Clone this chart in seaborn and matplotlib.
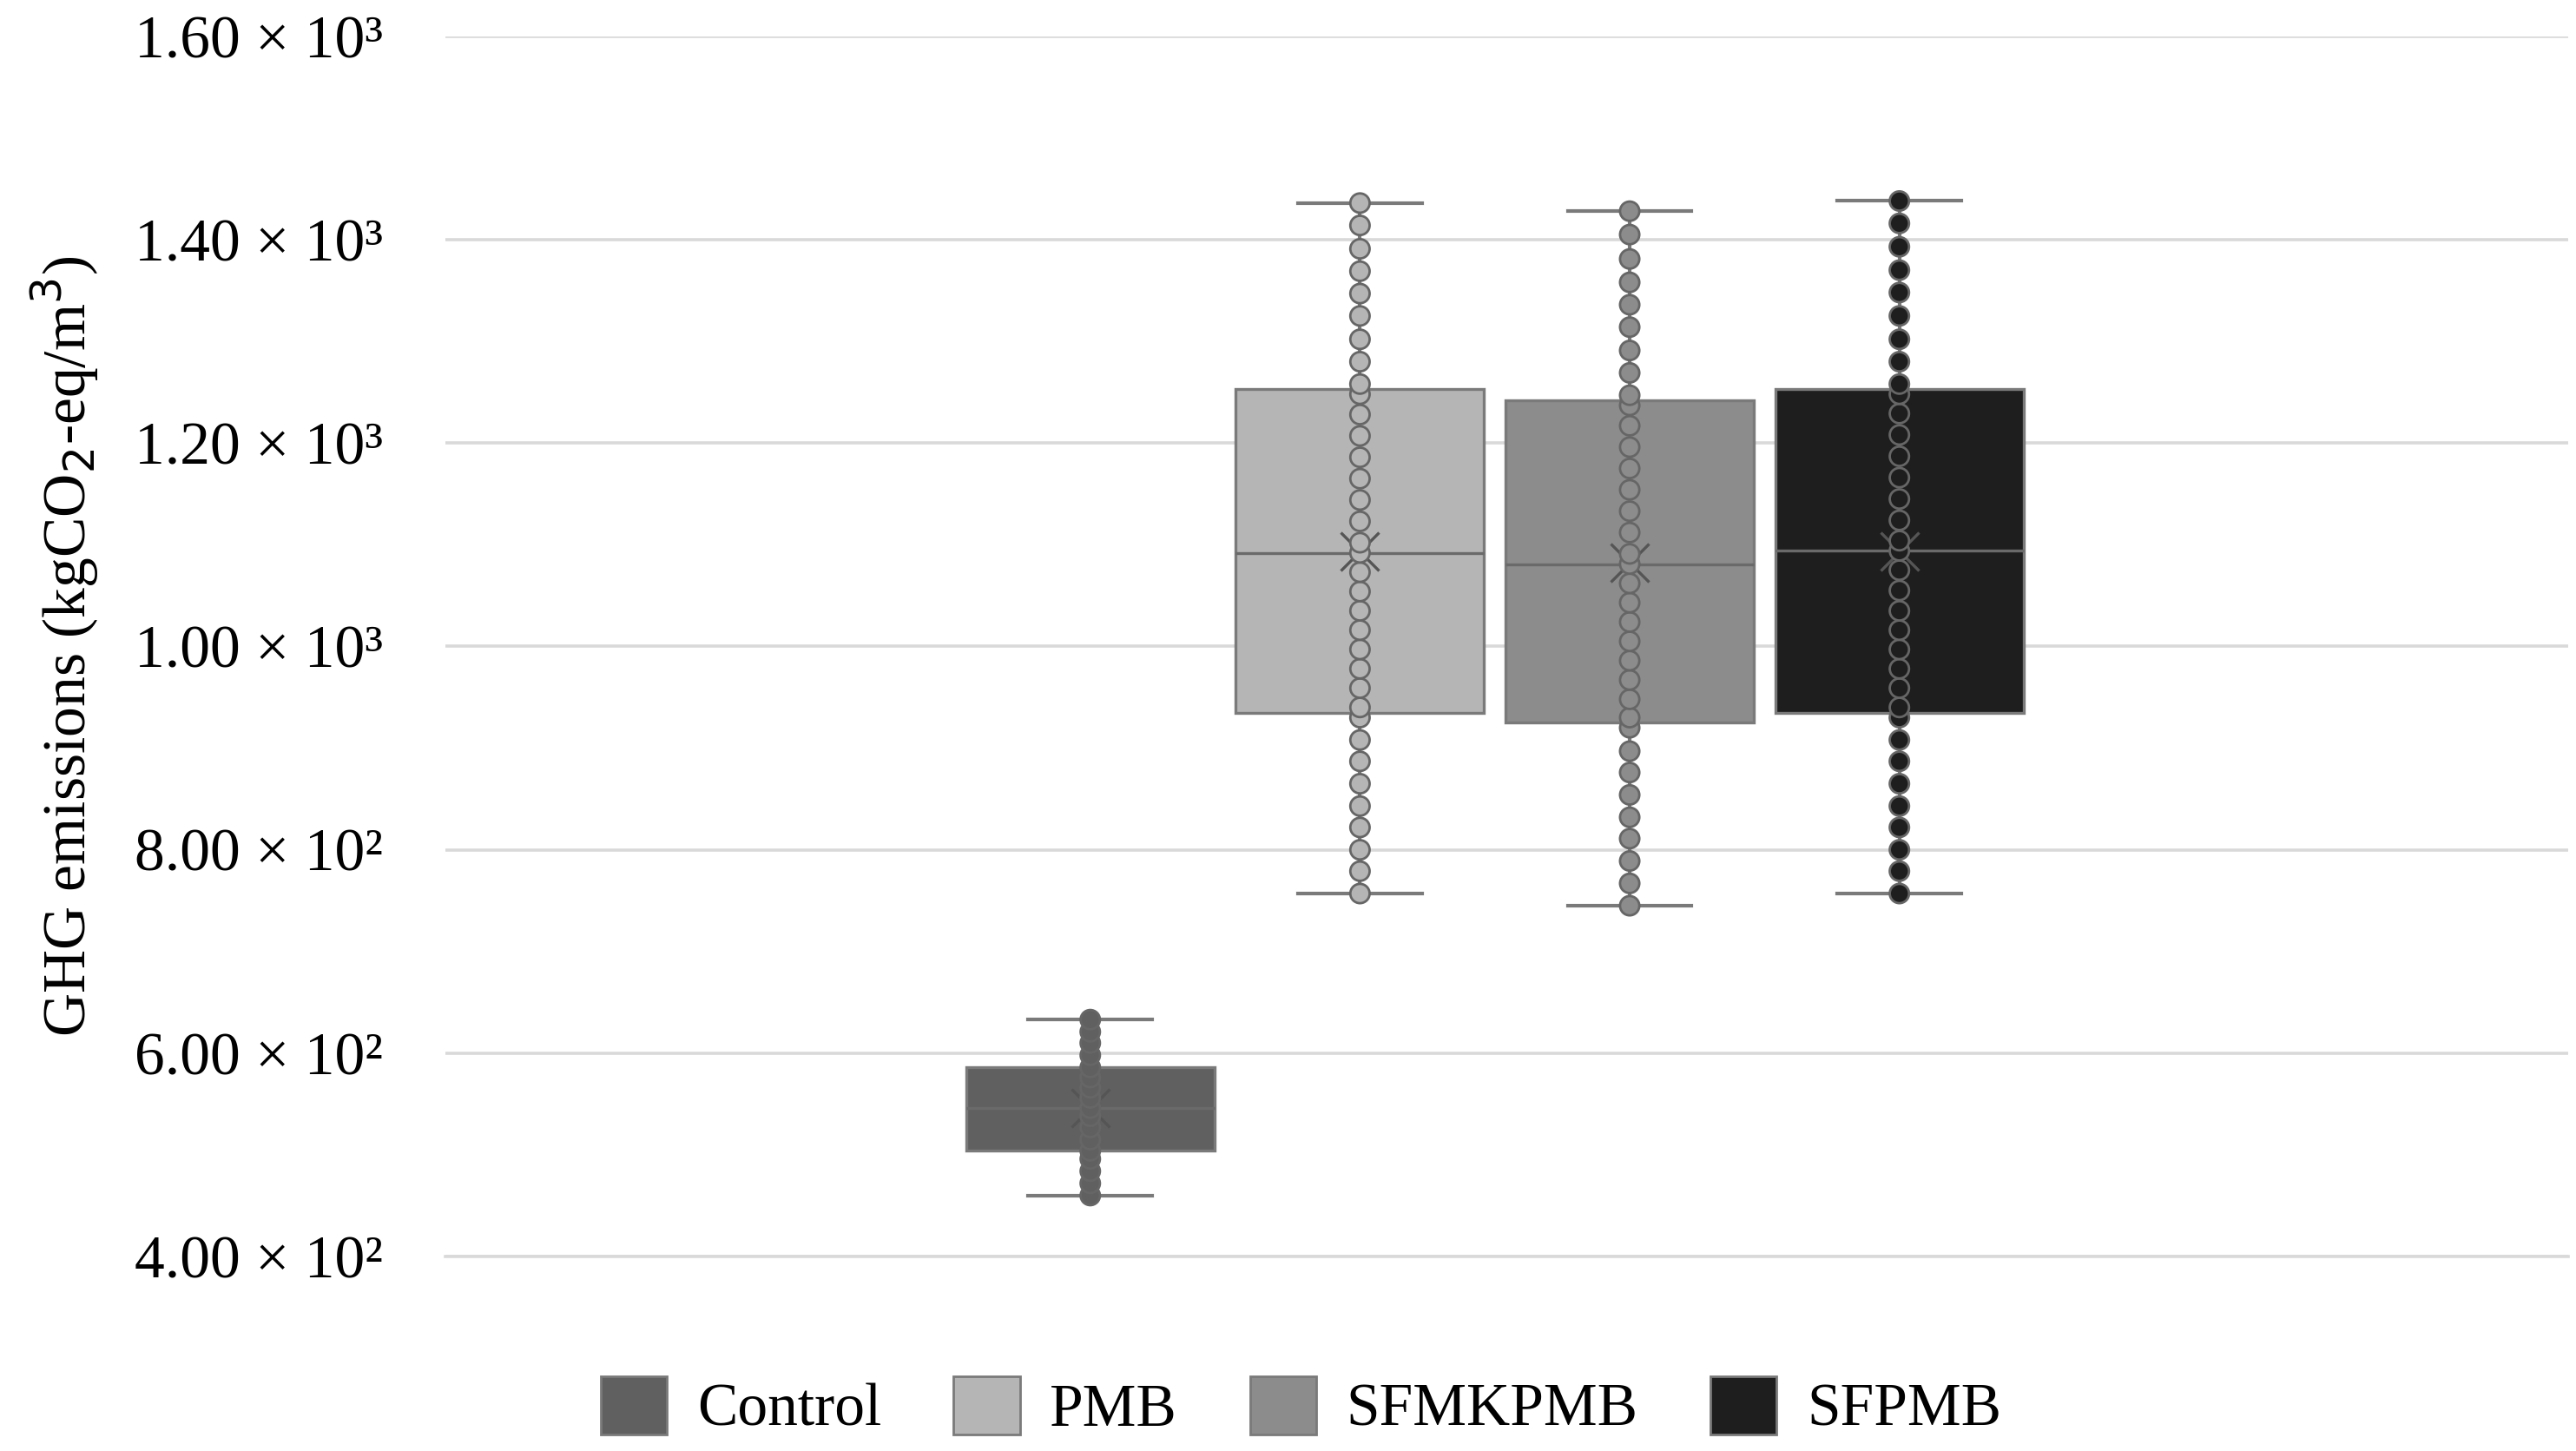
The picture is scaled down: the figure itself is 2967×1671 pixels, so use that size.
import matplotlib
matplotlib.use("Agg")
import matplotlib.pyplot as plt
import seaborn as sns
import pandas as pd
from matplotlib.patches import Patch

categories = ["Control", "PMB", "SFMKPMB", "SFPMB"]
control = [460, 472, 484, 496, 504, 515, 527, 538, 546, 556, 566, 576, 586, 598, 610, 621, 633]
pmb = [757, 779, 800, 822, 843, 865, 887, 908, 930, 940, 959, 978, 997, 1016, 1035, 1054, 1073, 1092,
       1102, 1123, 1144, 1165, 1186, 1207, 1228, 1248, 1258, 1280, 1302, 1325, 1347, 1369, 1391, 1414, 1436]
sfmkpmb = [745, 767, 789, 811, 832, 854, 876, 897, 920, 930, 948, 967, 986, 1005, 1024, 1043, 1062, 1081,
           1091, 1112, 1133, 1154, 1175, 1196, 1217, 1237, 1247, 1269, 1291, 1314, 1336, 1358, 1381, 1405, 1428]
sfpmb = [757, 779, 800, 822, 843, 865, 887, 908, 930, 940, 959, 978, 997, 1016, 1035, 1055, 1075, 1094,
         1104, 1124, 1145, 1166, 1187, 1208, 1229, 1248, 1258, 1280, 1302, 1325, 1348, 1370, 1393, 1416, 1438]
colors = ["#606060", "#b5b5b5", "#8c8c8c", "#1e1e1e"]
yticks = [400, 600, 800, 1000, 1200, 1400, 1600]
ytick_labels = ["4.00 × 10²", "6.00 × 10²", "8.00 × 10²", "1.00 × 10³", "1.20 × 10³", "1.40 × 10³", "1.60 × 10³"]

rows = []
for c, vals in zip(categories, [control, pmb, sfmkpmb, sfpmb]):
    rows += [(c, v) for v in vals]
df = pd.DataFrame(rows, columns=["cat", "val"])
pal = dict(zip(categories, colors))

plt.rcParams["font.family"] = "Liberation Serif"
fig = plt.figure(figsize=(14.835, 8.355), dpi=200)
ax = fig.add_axes([0.173, 0.134, 0.824, 0.841])

sns.boxplot(data=df, x="cat", y="val", hue="cat", order=categories, palette=pal, whis=(0, 100),
            width=0.92, showmeans=True, dodge=False, legend=False, zorder=2,
            meanprops=dict(marker="x", markeredgecolor="#555555", markersize=16, markeredgewidth=1.2),
            boxprops=dict(edgecolor="#7a7a7a", linewidth=1.2),
            medianprops=dict(color="#6a6a6a", linewidth=1.2),
            whiskerprops=dict(color="#7a7a7a", linewidth=1.5),
            capprops=dict(color="#7a7a7a", linewidth=1.5), ax=ax)
sns.stripplot(data=df, x="cat", y="val", hue="cat", order=categories, palette=pal, jitter=False,
              size=8, linewidth=1, edgecolor="#666666", legend=False, zorder=3, ax=ax)

ax.set_xlim(-2.39, 5.48)
ax.set_ylim(400, 1600)
ax.set_yticks(yticks)
ax.set_yticklabels(ytick_labels, fontsize=25)
ax.set_xticks([])
ax.set_xlabel("")
ax.set_ylabel("GHG emissions (kgCO$_2$-eq/m$^3$)", fontsize=25, labelpad=14)
ax.tick_params(axis="y", length=0, pad=26)
ax.yaxis.grid(True, color="#d9d9d9", linewidth=1.3, zorder=0)
ax.set_axisbelow(True)
for s in ["left", "right", "top"]:
    ax.spines[s].set_visible(False)
ax.spines["bottom"].set_color("#d9d9d9")
ax.spines["bottom"].set_linewidth(1.3)

handles = [Patch(facecolor=c, edgecolor="#7a7a7a", label=l) for c, l in zip(colors, categories)]
fig.legend(handles=handles, loc="center", bbox_to_anchor=(0.505, 0.03), ncol=4, frameon=False,
           fontsize=25, handlelength=1.1, handleheight=1.1, columnspacing=1.2, handletextpad=0.5)
fig.savefig("out.png", dpi=200)
